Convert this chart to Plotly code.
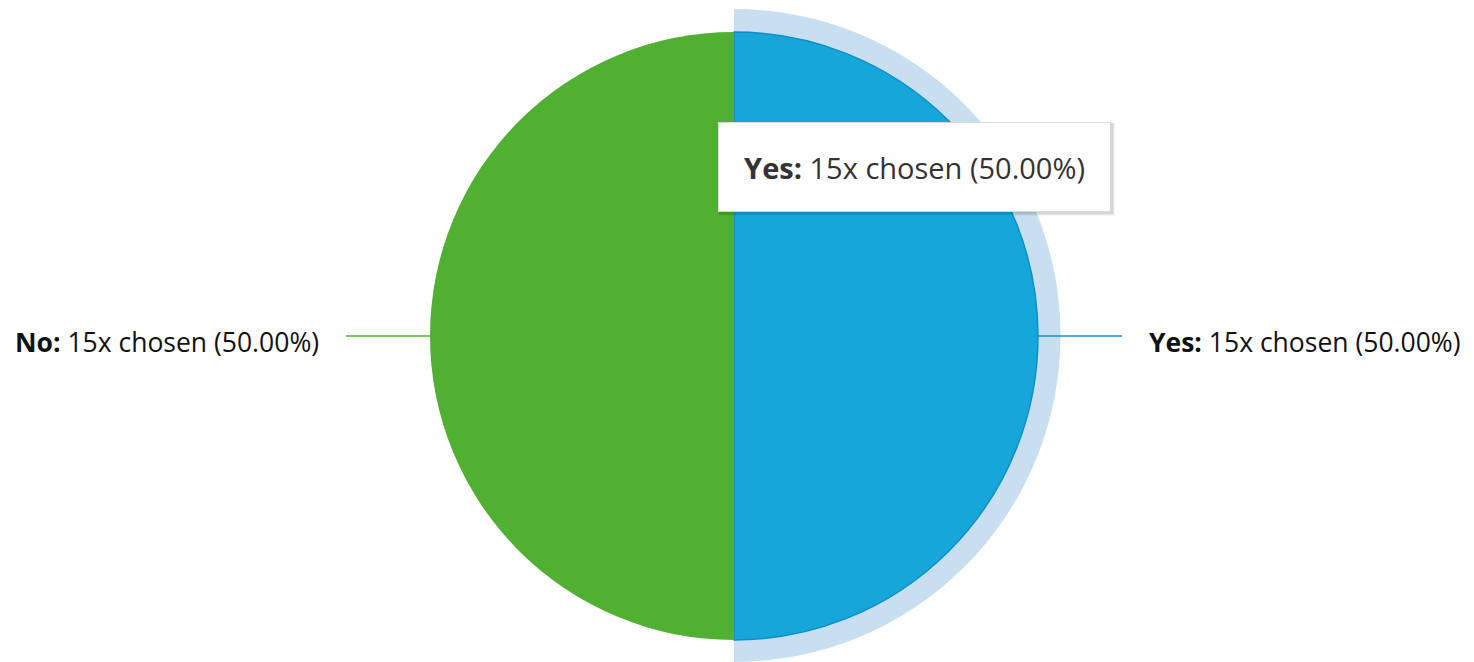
import plotly.graph_objects as go

# Answer tallies
labels = ["Yes", "No"]
counts = [15, 15]
slice_colors = ["#17A6DA", "#50B032"]
halo_color = "#C8DFF2"

W, H = 1474, 662
total = sum(counts)
pcts = [c / total * 100 for c in counts]
texts = [f"<b>{l}:</b> {c}x chosen ({p:.2f}%)" for l, c, p in zip(labels, counts, pcts)]


def px_x(x):
    return x / W


def px_y(y):
    return 1 - y / H


# pie geometry in pixels
cx, cy, r = 734, 336, 304
r_halo = 327

fig = go.Figure()

# highlight ring behind the hovered "Yes" slice
fig.add_trace(go.Pie(
    labels=labels, values=counts, sort=False, direction="clockwise", rotation=0,
    marker=dict(colors=[halo_color, "rgba(0,0,0,0)"], line=dict(width=0)),
    textinfo="none", hoverinfo="skip", showlegend=False,
    domain=dict(x=[px_x(cx - r_halo), px_x(cx + r_halo)],
                y=[max(0, px_y(cy + r_halo)), px_y(cy - r_halo)]),
))

# main pie
fig.add_trace(go.Pie(
    labels=labels, values=counts, sort=False, direction="clockwise", rotation=0,
    marker=dict(colors=slice_colors, line=dict(color=["#0E8FCC", "#50B032"], width=[1.5, 0])),
    textinfo="none", hoverinfo="skip", showlegend=False,
    domain=dict(x=[px_x(cx - r), px_x(cx + r)], y=[px_y(cy + r), px_y(cy - r)]),
))

shapes = []
annotations = []
font = dict(family="Open Sans, sans-serif", size=26.5, color="#111111")

# outside labels with leader lines (Yes on the right, No on the left)
lead = 84
gap = 25
for i, (txt, col) in enumerate(zip(texts, ["#1A8ED0", "#50B032"])):
    side = 1 if i == 0 else -1
    x0 = cx + side * r
    x1 = x0 + side * lead
    shapes.append(dict(type="line", xref="paper", yref="paper",
                       x0=px_x(x0), x1=px_x(x1), y0=px_y(cy), y1=px_y(cy),
                       line=dict(color=col, width=1.5), layer="above"))
    annotations.append(dict(
        text=txt, xref="paper", yref="paper", showarrow=False,
        x=px_x(x1 + side * gap), y=px_y(cy + 6),
        xanchor="left" if side == 1 else "right", yanchor="middle", font=font,
    ))

# tooltip box for the highlighted slice
bx0, by0, bx1, by1 = 718, 122, 1111, 212
for k, a in [(4, 0.04), (3, 0.06), (2, 0.08)]:
    shapes.append(dict(type="rect", xref="paper", yref="paper",
                       x0=px_x(bx0 + 1), x1=px_x(bx1 + k), y0=px_y(by1 + k), y1=px_y(by0 + 1),
                       fillcolor=f"rgba(0,0,0,{a})", line=dict(width=0), layer="above"))
annotations.append(dict(
    text=texts[0], xref="paper", yref="paper", showarrow=False,
    x=px_x((bx0 + bx1) / 2), y=px_y((by0 + by1) / 2),
    xanchor="center", yanchor="middle",
    width=bx1 - bx0 - 2, height=by1 - by0 - 2, borderpad=0,
    bgcolor="white", bordercolor="#DADADA", borderwidth=1,
    font=dict(family="Open Sans, sans-serif", size=29, color="#333333"),
))

fig.update_layout(
    width=W, height=H, margin=dict(l=0, r=0, t=0, b=0),
    paper_bgcolor="white", plot_bgcolor="white",
    shapes=shapes, annotations=annotations, showlegend=False,
)

fig.write_html("out.html", config={"displayModeBar": False})
